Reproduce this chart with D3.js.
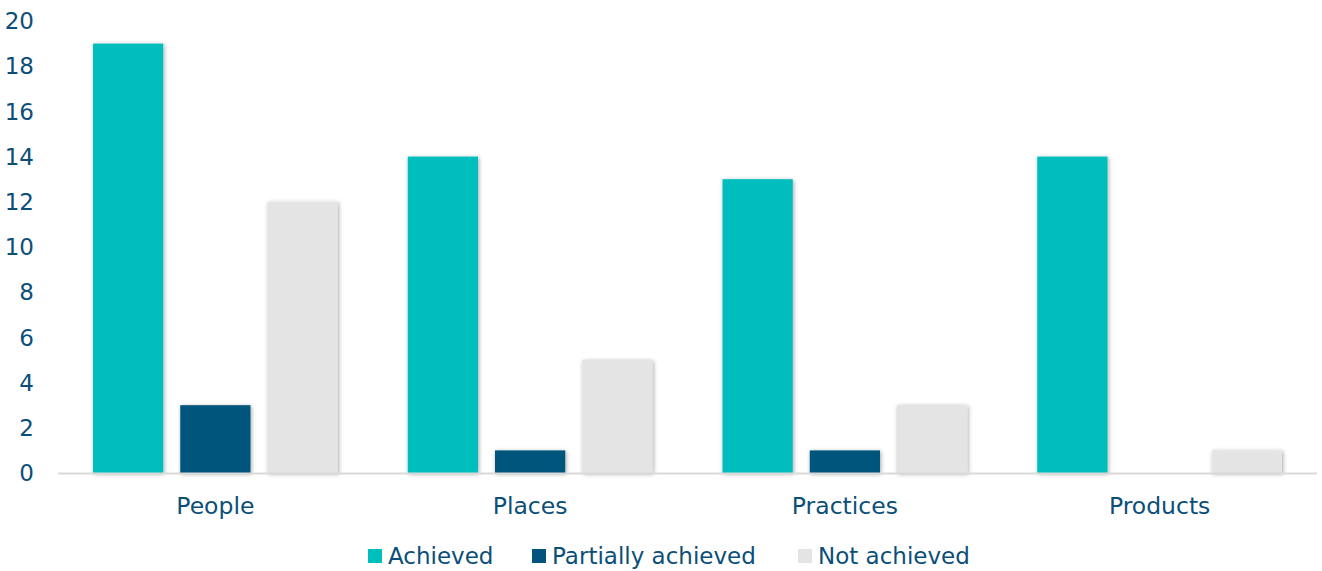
<!DOCTYPE html>
<html>
<head>
<meta charset="utf-8">
<script src="https://cdn.jsdelivr.net/npm/d3@7"></script>
<style>
  body { margin: 0; background: #fff; }
  text { font-family: Verdana, "DejaVu Sans", sans-serif; fill: #0b4f79; }
</style>
</head>
<body>
<svg id="chart" width="1322" height="571"></svg>
<script>
const categories = ['People', 'Places', 'Practices', 'Products'];
const seriesNames = ['Achieved', 'Partially achieved', 'Not achieved'];
const achieved = [19, 14, 13, 14];
const partiallyAchieved = [3, 1, 1, 0];
const notAchieved = [12, 5, 3, 1];
const yTicks = [0, 2, 4, 6, 8, 10, 12, 14, 16, 18, 20];
const colors = ['#00bebe', '#02547c', '#e4e4e4'];

const series = [achieved, partiallyAchieved, notAchieved];
const svg = d3.select('#chart');

// shadow under the bars
const defs = svg.append('defs');
defs.append('filter')
    .attr('id', 'shadow')
    .attr('x', '-20%').attr('y', '-20%').attr('width', '140%').attr('height', '140%')
    .append('feDropShadow')
    .attr('dx', 1).attr('dy', 1).attr('stdDeviation', 2)
    .attr('flood-color', '#000').attr('flood-opacity', 0.35);

const x0 = d3.scaleBand().domain(categories).range([58, 1317]).paddingInner(0).paddingOuter(0);
const x1 = d3.scaleBand().domain(seriesNames).range([35, x0.bandwidth() - 35]).paddingInner(0.195).paddingOuter(0);
const y = d3.scaleLinear().domain([0, 20]).range([473, 21]);

// y tick labels
svg.append('g').selectAll('text')
    .data(yTicks)
    .join('text')
    .attr('x', 34)
    .attr('y', d => y(d))
    .attr('dy', '0.36em')
    .attr('text-anchor', 'end')
    .attr('font-size', '23px')
    .text(d => d);

// bars
const groups = svg.append('g').selectAll('g')
    .data(categories)
    .join('g')
    .attr('transform', d => `translate(${x0(d)},0)`);

groups.selectAll('rect')
    .data((c, i) => seriesNames.map((s, j) => ({ s, j, v: series[j][i] })))
    .join('rect')
    .filter(d => d.v > 0)
    .attr('x', d => x1(d.s))
    .attr('y', d => y(d.v))
    .attr('width', x1.bandwidth())
    .attr('height', d => y(0) - y(d.v))
    .attr('fill', d => colors[d.j])
    .attr('filter', 'url(#shadow)');

// x axis line
svg.append('line')
    .attr('x1', 58).attr('x2', 1317)
    .attr('y1', y(0) + 0.5).attr('y2', y(0) + 0.5)
    .attr('stroke', '#d9d9d9').attr('stroke-width', 2);

// category labels
svg.append('g').selectAll('text')
    .data(categories)
    .join('text')
    .attr('x', d => x0(d) + x0.bandwidth() / 2)
    .attr('y', 514)
    .attr('text-anchor', 'middle')
    .attr('font-size', '23.5px')
    .text(d => d);

// legend (kept a little above the bottom edge so descenders fit)
const legendX = [368, 532, 798];
const legend = svg.append('g').selectAll('g')
    .data(seriesNames)
    .join('g')
    .attr('transform', (d, i) => `translate(${legendX[i]},549)`);
legend.append('rect')
    .attr('width', 14).attr('height', 14)
    .attr('fill', (d, i) => colors[i]);
legend.append('text')
    .attr('x', 20)
    .attr('y', 15)
    .attr('font-size', '23px')
    .text(d => d);
</script>
</body>
</html>
